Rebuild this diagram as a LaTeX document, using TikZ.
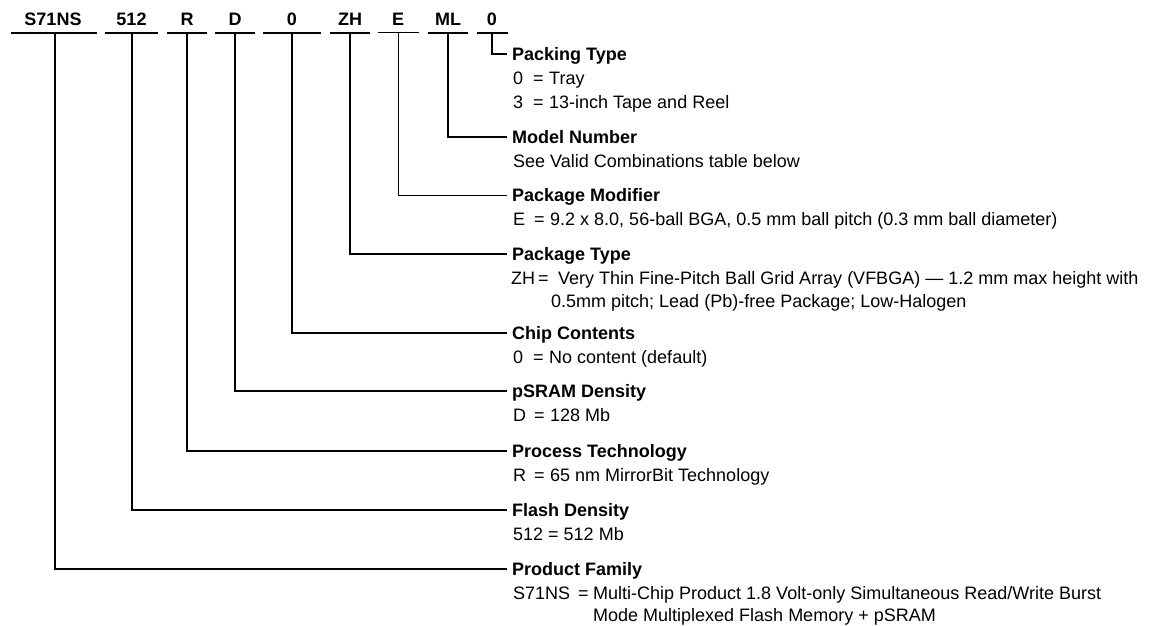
\documentclass[tikz,border=0pt]{standalone}
\usepackage{fontspec}
\setmainfont{Liberation Sans}
\begin{document}
\begin{tikzpicture}[x=1pt,y=-1pt,
  lab/.style={font=\bfseries\fontsize{18}{20}\selectfont, anchor=base, inner sep=0pt},
  ttl/.style={font=\bfseries\fontsize{18}{20}\selectfont, anchor=west, inner xsep=5pt, inner ysep=0pt, text height=13pt, text depth=0pt},
  bod/.style={font=\fontsize{18}{20}\selectfont, anchor=base west, inner sep=0pt},
  wire/.style={line width=2pt},
  thinwire/.style={line width=1pt}]
\useasboundingbox (0,0) rectangle (1165,625);

% code letters
\node[lab] (k1) at (53,25) {S71NS};
\node[lab] (k2) at (131.5,25) {512};
\node[lab] (k3) at (187,25) {R};
\node[lab] (k4) at (235,25) {D};
\node[lab] (k5) at (292,25) {0};
\node[lab] (k6) at (350,25) {ZH};
\node[lab] (k7) at (398,25) {E};
\node[lab] (k8) at (448,25) {ML};
\node[lab] (k9) at (492,25) {0};

% underlines
\draw[wire] (11,32.5) -- (97,32.5);
\draw[wire] (105,32.5) -- (158,32.5);
\draw[wire] (167,32.5) -- (207,32.5);
\draw[wire] (215,32.5) -- (255,32.5);
\draw[wire] (263,32.5) -- (321,32.5);
\draw[wire] (330,32.5) -- (370,32.5);
\draw[thinwire] (378,32.5) -- (419,32.5);
\draw[wire] (428,32.5) -- (468,32.5);
\draw[wire] (477,32.5) -- (508,32.5);

\coordinate (v1) at (55,32.5);
\coordinate (v2) at (132,32.5);
\coordinate (v3) at (187,32.5);
\coordinate (v4) at (235,32.5);
\coordinate (v5) at (292,32.5);
\coordinate (v6) at (350,32.5);
\coordinate (v7) at (398,32.5);
\coordinate (v8) at (448,32.5);
\coordinate (v9) at (492,32.5);

% titles
\node[ttl] (t9) at (507,54) {Packing Type};
\node[ttl] (t8) at (507,137) {Model Number};
\node[ttl] (t7) at (507,195) {Package Modifier};
\node[ttl] (t6) at (507,254) {Package Type};
\node[ttl] (t5) at (507,333) {Chip Contents};
\node[ttl] (t4) at (507,391) {pSRAM Density};
\node[ttl] (t3) at (507,451) {Process Technology};
\node[ttl] (t2) at (507,510) {Flash Density};
\node[ttl] (t1) at (507,569) {Product Family};

% connectors
\draw[wire] (v1) |- (t1.west);
\draw[wire] (v2) |- (t2.west);
\draw[wire] (v3) |- (t3.west);
\draw[wire] (v4) |- (t4.west);
\draw[wire] (v5) |- (t5.west);
\draw[wire] (v6) |- (t6.west);
\draw[thinwire] (v7) |- (t7.west);
\draw[wire] (v8) |- (t8.west);
\draw[wire] (v9) |- (t9.west);

% descriptions
\node[bod] (p1k) at (513,84) {0};
\node[bod] (p1q) at (533,84) {=};
\node[bod] (p1e) at (549,84) {Tray};
\node[bod] (p2k) at (513,108) {3};
\node[bod] (p2q) at (533,108) {=};
\node[bod] (p2e) at (549,108) {13-inch Tape and Reel};

\node[bod] (m1) at (513,167) {See Valid Combinations table below};

\node[bod] (e1k) at (513,225) {E};
\node[bod] (e1q) at (534,225) {=};
\node[bod] (e1e) at (550,225) {9.2 x 8.0, 56-ball BGA, 0.5 mm ball pitch (0.3 mm ball diameter)};

\node[bod] (z1k) at (511,284) {ZH};
\node[bod] (z1q) at (538,284) {=};
\node[bod] (z1e) at (558,284) {Very Thin Fine-Pitch Ball Grid Array (VFBGA) — 1.2 mm max height with};
\node[bod] (z2e) at (551,307) {0.5mm pitch; Lead (Pb)-free Package; Low-Halogen};

\node[bod] (c1k) at (513,363) {0};
\node[bod] (c1q) at (533,363) {=};
\node[bod] (c1e) at (549,363) {No content (default)};

\node[bod] (d1k) at (513,421) {D};
\node[bod] (d1q) at (534,421) {=};
\node[bod] (d1e) at (550,421) {128 Mb};

\node[bod] (r1k) at (513,481) {R};
\node[bod] (r1q) at (534,481) {=};
\node[bod] (r1e) at (550,481) {65 nm MirrorBit Technology};

\node[bod] (f1) at (513,540) {512 = 512 Mb};

\node[bod] (s1k) at (513,599) {S71NS};
\node[bod] (s1q) at (578,599) {=};
\node[bod] (s1e) at (593,599) {Multi-Chip Product 1.8 Volt-only Simultaneous Read/Write Burst};
\node[bod] (s2e) at (593,621) {Mode Multiplexed Flash Memory + pSRAM};
\end{tikzpicture}
\end{document}
